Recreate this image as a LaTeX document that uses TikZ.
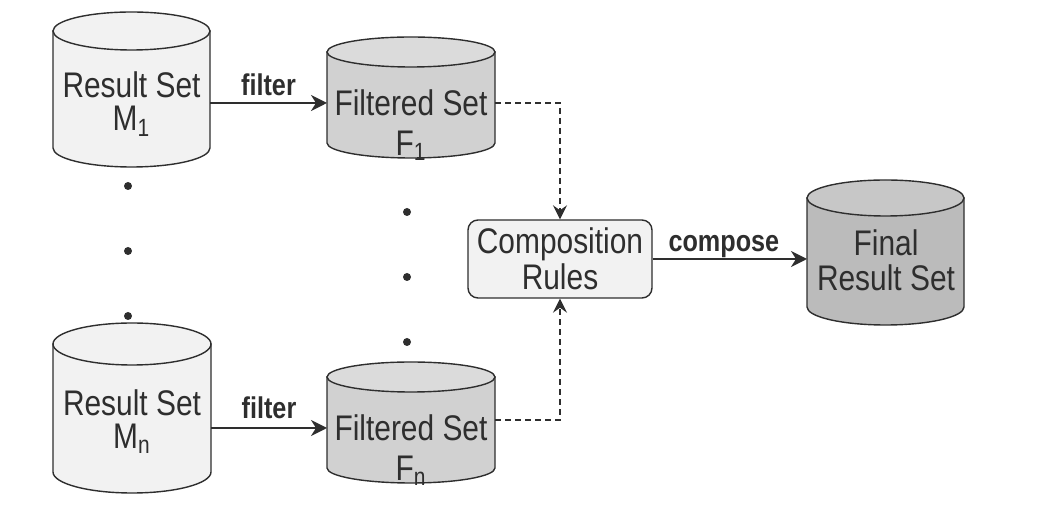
\documentclass[tikz,border=0pt]{standalone}
\usepackage{fontspec}
\setmainfont{Liberation Sans}[FakeStretch=0.84]
\usetikzlibrary{arrows.meta,positioning}

\definecolor{ink}{HTML}{2E2E2E}
\definecolor{lightset}{HTML}{F2F2F2}
\definecolor{filtbody}{HTML}{D1D1D1}
\definecolor{filttop}{HTML}{DBDBDB}
\definecolor{finbody}{HTML}{BBBBBB}
\definecolor{fintop}{HTML}{C7C7C7}

\tikzset{
	txt/.style={align=center, inner sep=0pt, text=ink, font=\fontsize{17.8}{16.5}\selectfont},
	lbl/.style={inner sep=0pt, text depth=0pt, text=ink, font=\bfseries\fontsize{15}{15}\selectfont},
	arr/.style={draw=ink, line width=1pt, -{Stealth[length=8pt,width=8pt,inset=2.5pt]}},
	dasharr/.style={draw=ink, line width=0.75pt, dash pattern=on 3pt off 2pt, -{Stealth[length=7pt,width=7pt,inset=2.5pt]}},
	setbox/.style={inner sep=0pt, outer sep=0pt},
	cyl/.style={draw=ink, line width=0.7pt},
	rulebox/.style={draw=ink, fill=lightset, line width=0.7pt, rounded corners=5pt,
		minimum width=92pt, minimum height=39pt, inner sep=0pt, align=center,
		text=ink, font=\fontsize{17.8}{18}\selectfont}
}

% name, cx, cy, width, height, ry, body colour, top colour (all in px)
\newcommand{\dbset}[8]{%
	\node[setbox, minimum width=#4*0.5pt, minimum height=#5*0.5pt] (#1) at (#2,#3) {};
	\filldraw[cyl, fill=#7] (#2-#4/2,#3-#5/2+#6) -- (#2-#4/2,#3+#5/2-#6)
		arc[start angle=180, end angle=0, x radius=#4/2, y radius=#6] -- (#2+#4/2,#3-#5/2+#6) -- cycle;
	\filldraw[cyl, fill=#8] (#2,#3-#5/2+#6) ellipse[x radius=#4/2, y radius=#6];
}

\begin{document}
\begin{tikzpicture}[x=0.5pt, y=-0.5pt]
	\useasboundingbox (0,0) rectangle (1039,528);
	
	%Result sets
	\dbset{M1}{131.5}{89.5}{157}{155}{19}{lightset}{lightset}
	\node[txt] (M1t) at (131.5,104) {Result Set\\M\textsubscript{1}};
	\dbset{Mn}{132}{408}{158}{170}{21}{lightset}{lightset}
	\node[txt] (Mnt) at (132,422) {Result Set\\M\textsubscript{n}};
	
	%Filtered sets
	\dbset{F1}{411}{97.5}{168}{121}{15}{filtbody}{filttop}
	\node[txt, font=\fontsize{17.8}{20}\selectfont] (F1t) at (411,125) {Filtered Set\\F\textsubscript{1}};
	\dbset{Fn}{411}{422.5}{168}{121}{15}{filtbody}{filttop}
	\node[txt, font=\fontsize{17.8}{20}\selectfont] (Fnt) at (411,450) {Filtered Set\\F\textsubscript{n}};
	
	%Composition and final set
	\node[rulebox] (CR) at (560,259) {Composition\\Rules};
	\dbset{FR}{885.5}{252.5}{157}{145}{18}{finbody}{fintop}
	\node[txt, font=\fontsize{17.8}{17.5}\selectfont] (FRt) at (886,260.5) {Final\\Result Set};
	
	%dots
	\foreach \y in {186,251,316}
		\fill[ink] (128,\y) circle[radius=4];
	\foreach \y in {212,277,342}
		\fill[ink] (407,\y) circle[radius=4];
	
	%arrows
	\coordinate (top) at (0,103);
	\coordinate (botin) at (0,428);
	\coordinate (botout) at (0,420);
	\draw[arr] (M1.east |- top) -- node[lbl, above=3pt] {filter} (F1.west |- top);
	\draw[arr] (Mn.east |- botin) -- node[lbl, above=4pt] {filter} (Fn.west |- botin);
	\draw[dasharr] (F1.east |- top) -| (CR.north);
	\draw[dasharr] (Fn.east |- botout) -| (CR.south);
	\draw[arr] (CR.east) -- node[lbl, above=3pt, xshift=-3pt] {compose} (FR.west |- CR.east);
\end{tikzpicture}
\end{document}
